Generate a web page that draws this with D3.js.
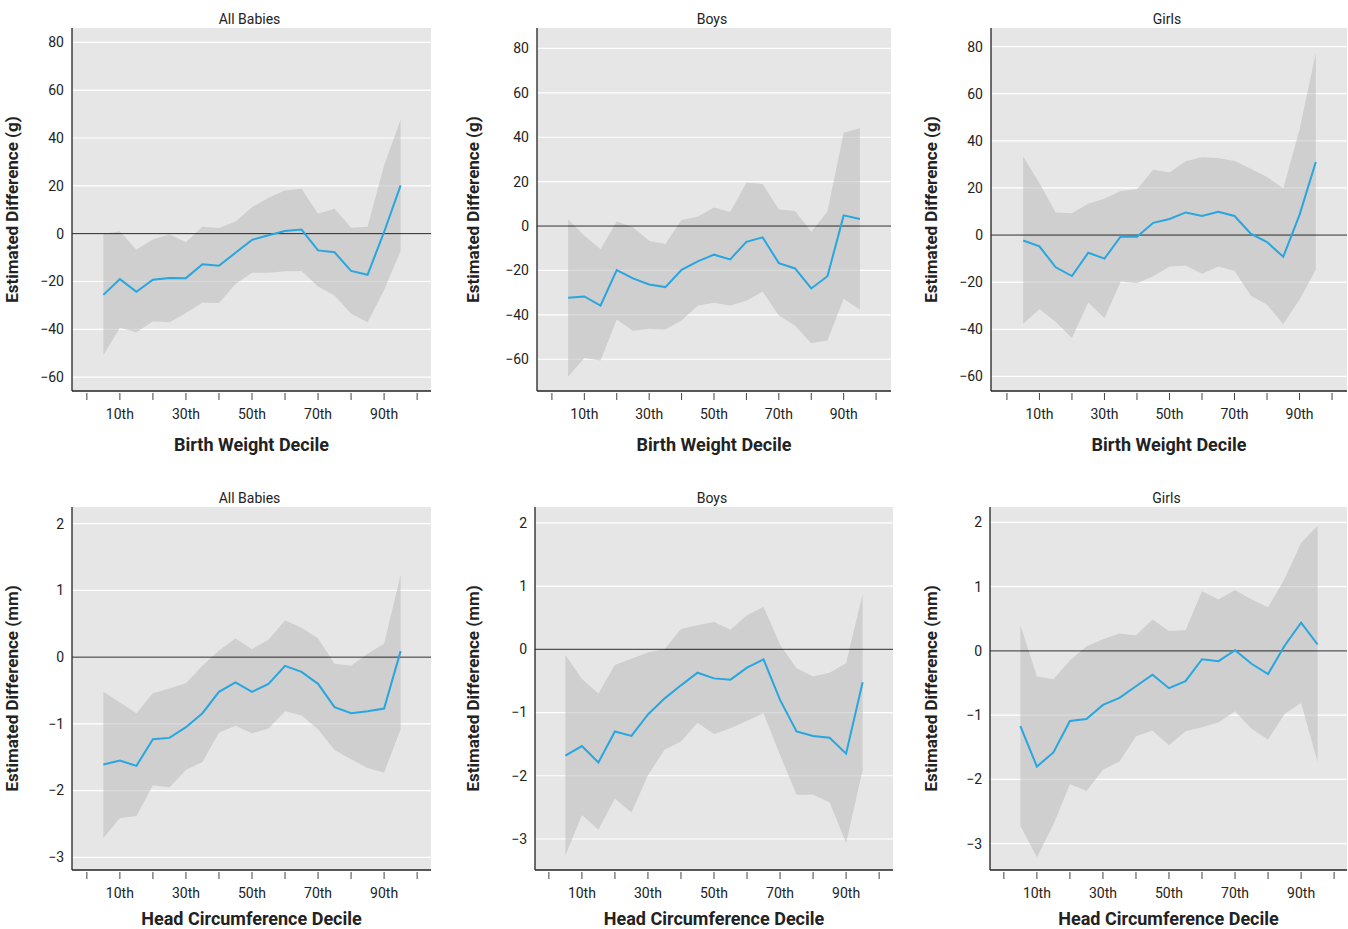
<!DOCTYPE html>
<html>
<head>
<meta charset="utf-8">
<script src="https://cdn.jsdelivr.net/npm/d3@7"></script>
<style>
  body { margin: 0; background: #fff; }
  text { font-family: "Roboto", sans-serif; fill: #222; }
</style>
</head>
<body>
<svg id="chart" width="1348" height="929"></svg>
<script>
// deciles at which estimates are plotted
const deciles = [5,10,15,20,25,30,35,40,45,50,55,60,65,70,75,80,85,90,95];
const tickDeciles = [0,10,20,30,40,50,60,70,80,90,100];
const tickLabels = {10: "10th", 30: "30th", 50: "50th", 70: "70th", 90: "90th"};
const titles = ["All Babies", "Boys", "Girls"];

// birth weight (g)
const bwAllMid = [-25.6,-19,-24.3,-19.3,-18.5,-18.6,-12.8,-13.4,-8,-2.6,-0.7,1.1,1.7,-7,-7.8,-15.6,-17.2,0.7,20.2];
const bwAllHi  = [0,1,-6.7,-2.4,-0.4,-3.6,2.9,2.4,5.1,11,15,18,18.8,8.3,10.4,2.5,2.9,28.5,47.6];
const bwAllLo  = [-50.8,-39.4,-41.2,-36.6,-37,-33.2,-28.8,-29,-21.1,-16.4,-16.4,-15.7,-15.6,-22.1,-25.9,-33.4,-37.1,-23.6,-7.2];
const bwBoysMid = [-32.3,-31.7,-35.8,-19.8,-23.6,-26.3,-27.5,-19.7,-15.9,-12.9,-15,-7.1,-5.1,-16.7,-19.1,-28.1,-22.6,4.8,3.2];
const bwBoysHi  = [2.9,-4.4,-10.5,2,-0.5,-6.6,-8.1,2.7,4.2,8.4,6.3,19.5,18.9,7.4,6.8,-2.6,6.6,42,44];
const bwBoysLo  = [-67.8,-59.4,-60.6,-42.1,-47.2,-46.3,-46.6,-42.6,-35.8,-34.6,-35.8,-33.7,-29.5,-40.3,-44.8,-52.8,-51.6,-32.8,-37.6];
const bwGirlsMid = [-2.3,-4.8,-13.7,-17.4,-7.5,-10,-0.6,-0.7,5.2,6.8,9.6,8.1,9.9,8.1,0.6,-3,-9.2,8.6,31];
const bwGirlsHi  = [33.4,22,9.6,9.3,13.3,15.4,18.7,19.4,27.7,26.6,31.3,33,32.7,31.4,28.1,24.6,19.9,44.7,77.2];
const bwGirlsLo  = [-37.6,-31.4,-36.9,-43.7,-28.6,-35.2,-19.7,-20.5,-17.5,-13.3,-12.9,-16.4,-13.3,-15.1,-25.7,-29.6,-37.8,-27.4,-14.7];

// head circumference (mm)
const hcAllMid = [-1.61,-1.55,-1.63,-1.23,-1.21,-1.05,-0.84,-0.52,-0.38,-0.52,-0.4,-0.13,-0.22,-0.4,-0.75,-0.84,-0.81,-0.77,0.09];
const hcAllHi  = [-0.52,-0.68,-0.84,-0.54,-0.47,-0.39,-0.13,0.1,0.28,0.12,0.26,0.55,0.44,0.28,-0.1,-0.13,0.05,0.2,1.23];
const hcAllLo  = [-2.71,-2.41,-2.38,-1.92,-1.95,-1.69,-1.57,-1.13,-1.03,-1.14,-1.07,-0.81,-0.87,-1.08,-1.39,-1.53,-1.66,-1.73,-1.08];
const hcBoysMid = [-1.68,-1.53,-1.79,-1.3,-1.37,-1.03,-0.78,-0.57,-0.37,-0.46,-0.48,-0.29,-0.16,-0.8,-1.3,-1.37,-1.4,-1.65,-0.52];
const hcBoysHi  = [-0.09,-0.47,-0.7,-0.25,-0.15,-0.05,0,0.32,0.38,0.43,0.31,0.54,0.67,0.07,-0.3,-0.43,-0.37,-0.22,0.87];
const hcBoysLo  = [-3.26,-2.62,-2.85,-2.36,-2.58,-1.99,-1.59,-1.46,-1.16,-1.34,-1.25,-1.13,-1.01,-1.67,-2.3,-2.3,-2.42,-3.06,-1.91];
const hcGirlsMid = [-1.17,-1.8,-1.58,-1.09,-1.06,-0.84,-0.73,-0.55,-0.37,-0.58,-0.47,-0.13,-0.16,0.01,-0.2,-0.36,0.08,0.44,0.1];
const hcGirlsHi  = [0.4,-0.4,-0.44,-0.15,0.07,0.18,0.27,0.24,0.49,0.31,0.32,0.93,0.8,0.95,0.8,0.68,1.12,1.68,1.95];
const hcGirlsLo  = [-2.72,-3.21,-2.7,-2.07,-2.18,-1.85,-1.72,-1.33,-1.24,-1.47,-1.25,-1.19,-1.11,-0.94,-1.21,-1.38,-0.98,-0.81,-1.73];

const bwTicks = [-60,-40,-20,0,20,40,60,80];
const hcTicks = [-3,-2,-1,0,1,2];

const panels = [
  { box: [72, 431, 28, 391],  xd: [-4.5, 104.2], yd: [-65.8, 86],  mid: bwAllMid,  hi: bwAllHi,  lo: bwAllLo,  t: 0, yt: bwTicks, ylab: "Estimated Difference (g)", xlab: "Birth Weight Decile", ylx: 18, xly: 60 },
  { box: [537, 891, 28, 391], xd: [-4.6, 104.6], yd: [-74.3, 89.2], mid: bwBoysMid, hi: bwBoysHi, lo: bwBoysLo, t: 1, yt: bwTicks, ylab: "Estimated Difference (g)", xlab: "Birth Weight Decile", ylx: 479, xly: 60 },
  { box: [991, 1347, 28, 391], xd: [-4.9, 104.6], yd: [-66.2, 87.9], mid: bwGirlsMid, hi: bwGirlsHi, lo: bwGirlsLo, t: 2, yt: bwTicks, ylab: "Estimated Difference (g)", xlab: "Birth Weight Decile", ylx: 937, xly: 60 },
  { box: [72, 431, 507, 870], xd: [-4.5, 104.2], yd: [-3.19, 2.25], mid: hcAllMid, hi: hcAllHi, lo: hcAllLo, t: 0, yt: hcTicks, ylab: "Estimated Difference (mm)", xlab: "Head Circumference Decile", ylx: 18, xly: 55 },
  { box: [535, 893, 507, 870], xd: [-4.2, 104.2], yd: [-3.49, 2.25], mid: hcBoysMid, hi: hcBoysHi, lo: hcBoysLo, t: 1, yt: hcTicks, ylab: "Estimated Difference (mm)", xlab: "Head Circumference Decile", ylx: 479, xly: 55 },
  { box: [990, 1347, 507, 870], xd: [-4.2, 103.9], yd: [-3.41, 2.24], mid: hcGirlsMid, hi: hcGirlsHi, lo: hcGirlsLo, t: 2, yt: hcTicks, ylab: "Estimated Difference (mm)", xlab: "Head Circumference Decile", ylx: 937, xly: 55 }
];

const svg = d3.select("#chart");

panels.forEach(p => {
  const [l, r, t, b] = p.box;
  const x = d3.scaleLinear().domain(p.xd).range([l, r]);
  const y = d3.scaleLinear().domain(p.yd).range([b, t]);
  const g = svg.append("g");

  // background
  g.append("rect").attr("x", l).attr("y", t).attr("width", r - l).attr("height", b - t).attr("fill", "#e6e6e6");

  // gridlines
  g.selectAll(".grid").data(p.yt).enter().append("line")
    .attr("x1", l).attr("x2", r).attr("y1", d => y(d)).attr("y2", d => y(d))
    .attr("stroke", "#fff").attr("stroke-width", 1.2);

  // confidence band
  const area = d3.area().x((d, i) => x(deciles[i])).y0((d, i) => y(p.lo[i])).y1((d, i) => y(p.hi[i]));
  g.append("path").datum(p.mid).attr("d", area).attr("fill", "#b8b8b8").attr("opacity", 0.5);

  // zero line
  g.append("line").attr("x1", l).attr("x2", r).attr("y1", y(0)).attr("y2", y(0))
    .attr("stroke", "#222").attr("stroke-width", 1);

  // estimate
  const line = d3.line().x((d, i) => x(deciles[i])).y(d => y(d));
  g.append("path").datum(p.mid).attr("d", line).attr("fill", "none")
    .attr("stroke", "#27a6df").attr("stroke-width", 2);

  // axes
  g.append("line").attr("x1", l).attr("x2", l).attr("y1", t).attr("y2", b).attr("stroke", "#222").attr("stroke-width", 1.3);
  g.append("line").attr("x1", l).attr("x2", r).attr("y1", b).attr("y2", b).attr("stroke", "#222").attr("stroke-width", 1.3);

  g.selectAll(".xt").data(tickDeciles).enter().append("line")
    .attr("x1", d => x(d)).attr("x2", d => x(d)).attr("y1", b + 2).attr("y2", b + 9)
    .attr("stroke", "#444").attr("stroke-width", 1);
  g.selectAll(".xl").data(tickDeciles.filter(d => tickLabels[d])).enter().append("text")
    .attr("x", d => x(d)).attr("y", b + 28).attr("text-anchor", "middle").attr("font-size", 14)
    .text(d => tickLabels[d]);

  g.selectAll(".yl").data(p.yt).enter().append("text")
    .attr("x", l - 8).attr("y", d => y(d)).attr("dy", "0.35em").attr("text-anchor", "end").attr("font-size", 14)
    .text(d => d < 0 ? "\u2212" + Math.abs(d) : d);

  // titles
  g.append("text").attr("x", (l + r) / 2 - 2).attr("y", t - 4).attr("text-anchor", "middle")
    .attr("font-size", 14).text(titles[p.t]);
  g.append("text").attr("x", (l + r) / 2).attr("y", b + p.xly).attr("text-anchor", "middle")
    .attr("font-size", 18).attr("font-weight", "bold").text(p.xlab);
  g.append("text").attr("transform", `translate(${p.ylx},${(t + b) / 2}) rotate(-90)`)
    .attr("text-anchor", "middle").attr("font-size", 17).attr("font-weight", "bold").text(p.ylab);
});
</script>
</body>
</html>
